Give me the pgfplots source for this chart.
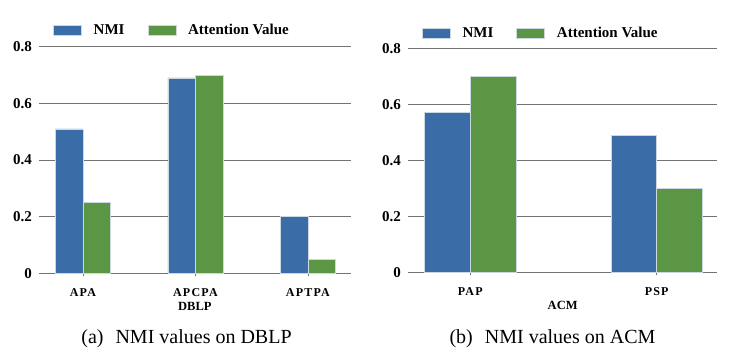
\documentclass[border=0pt]{standalone}
\usepackage{fontspec}
\setmainfont{Liberation Serif}
\newfontfamily\tickfont[LetterSpace=10]{Liberation Serif}
\usepackage{pgfplots}
\pgfplotsset{compat=1.18}
\definecolor{nmiblue}{RGB}{58,109,167}
\definecolor{attgreen}{RGB}{91,150,68}
\definecolor{gridgray}{RGB}{115,115,115}
\definecolor{baredge}{RGB}{205,215,225}

\pgfplotsset{
  mybar/.style={
    scale only axis,
    ybar=0pt,
    ymin=0, ymax=0.8,
    ytick={0,0.2,0.4,0.6,0.8},
    yticklabels={0,0.2,0.4,0.6,0.8},
    ymajorgrids,
    major grid style={gridgray, line width=0.8pt},
    axis line style={draw=none},
    ytick style={draw=none},
    xtick=data,
    xtick pos=bottom,
    xtick style={gridgray, line width=0.6pt},
    tick align=outside,
    major tick length=3pt,
    yticklabel style={font=\bfseries\fontsize{15}{18}\selectfont, inner sep=0pt, xshift=-4pt},
    xticklabel style={font=\tickfont\bfseries\fontsize{12}{14}\selectfont, inner sep=0pt, yshift=-12.2pt},
    xlabel style={font=\bfseries\fontsize{12.5}{14}\selectfont, anchor=base, inner sep=0pt},
    clip=false,
    legend columns=2,
    legend image code/.code={\fill[##1] (0pt,-5pt) rectangle (28pt,5pt);},
    legend style={draw=none, fill=none, inner sep=0pt, anchor=west,
      font=\bfseries\fontsize{15}{18}\selectfont,
      nodes={inner sep=0pt},
      /tikz/every odd column/.append style={column sep=12pt},
      /tikz/every even column/.append style={column sep=23pt}},
  },
  nmistyle/.style={fill=nmiblue, draw=baredge, line width=0.5pt},
  attstyle/.style={fill=attgreen, draw=baredge, line width=0.5pt},
}

\begin{document}
\begin{tikzpicture}
\path[use as bounding box] (0pt,0pt) rectangle (739pt,359pt);

\begin{axis}[mybar,
  at={(39pt,85.7pt)}, anchor=south west,
  width=311.7pt, height=226.6pt,
  xmin=-0.39, xmax=2.38,
  bar width=27.5pt,
  xticklabels={APA,APCPA,APTPA},
  xlabel={DBLP},
  xlabel style={at={(axis description cs:0.5,-0.1655)}},
  legend style={at={(axis description cs:0.045,1.074)}},
]
\addplot[nmistyle] coordinates {(0,0.51) (1,0.69) (2,0.20)};
\addplot[attstyle] coordinates {(0,0.25) (1,0.70) (2,0.05)};
\legend{NMI, Attention Value}
\end{axis}

\begin{axis}[mybar,
  at={(408pt,86.7pt)}, anchor=south west,
  width=309.3pt, height=224pt,
  xmin=-0.334, xmax=1.325,
  bar width=45.7pt,
  xticklabels={PAP,PSP},
  xlabel={ACM},
  xlabel style={at={(axis description cs:0.5,-0.165)}},
  legend style={at={(axis description cs:0.045,1.068)}},
]
\addplot[nmistyle] coordinates {(0,0.57) (1,0.49)};
\addplot[attstyle] coordinates {(0,0.70) (1,0.30)};
\legend{NMI, Attention Value}
\end{axis}

\node[anchor=base, font=\fontsize{20}{24}\selectfont, inner sep=0pt] at (186.5pt,15.7pt) {(a)\hspace{12pt}NMI values on DBLP};
\node[anchor=base, font=\fontsize{20}{24}\selectfont, inner sep=0pt] at (552.5pt,15.7pt) {(b)\hspace{12pt}NMI values on ACM};
\end{tikzpicture}
\end{document}
